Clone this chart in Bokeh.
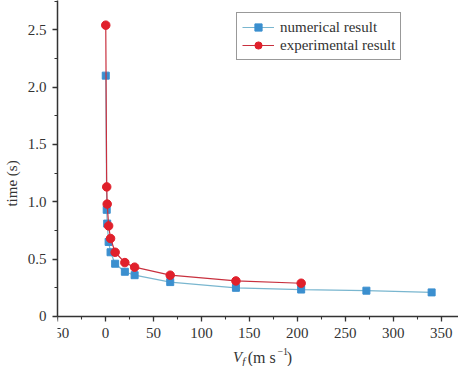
from bokeh.plotting import figure
from bokeh.models import (Range1d, SingleIntervalTicker, CustomJSTickFormatter,
                          Legend, LegendItem)
from bokeh.core.properties import value
from bokeh.embed import file_html
from bokeh.resources import INLINE

# data
vf_num = [0.3, 1.3, 1.8, 3.3, 5.3, 10.1, 20.2, 30.4, 67.5, 136, 204, 272, 340]
t_num = [2.10, 0.93, 0.81, 0.65, 0.56, 0.46, 0.39, 0.36, 0.30, 0.25, 0.235, 0.225, 0.21]
vf_exp = [0.3, 1.3, 1.8, 3.3, 5.3, 10.1, 20.2, 30.4, 67.5, 136, 204]
t_exp = [2.54, 1.13, 0.98, 0.79, 0.68, 0.56, 0.47, 0.43, 0.36, 0.31, 0.29]
x_label_parts = ["V", "f", "(m s", "\u22121", ")"]
y_label = "time (s)"
legend_labels = ["numerical result", "experimental result"]

FONT = "Liberation Serif"
AX = "#333333"
Y_TOP = 2.755
Y_BOTTOM = -0.436

p = figure(width=458, height=366, output_backend="svg", toolbar_location=None,
           x_range=Range1d(-50, 368), y_range=Range1d(Y_BOTTOM, Y_TOP),
           min_border_left=46, min_border_right=0, min_border_top=0,
           min_border_bottom=0)
p.outline_line_color = None
p.xgrid.visible = False
p.ygrid.visible = False

for ax in (p.xaxis[0], p.yaxis[0]):
    ax.axis_line_color = AX
    ax.axis_line_width = 1.5
    ax.major_tick_line_color = AX
    ax.minor_tick_line_color = AX
    ax.major_tick_line_width = 1.3
    ax.minor_tick_line_width = 1.1
    ax.major_tick_in = 0
    ax.major_tick_out = 5
    ax.minor_tick_in = 0
    ax.minor_tick_out = 3
    ax.major_label_text_font = FONT
    ax.major_label_text_font_size = "15px"
    ax.major_label_text_color = AX
    ax.axis_label_text_font = FONT
    ax.axis_label_text_font_size = "15px"
    ax.axis_label_text_color = AX
    ax.axis_label_text_font_style = "normal"

p.xaxis.fixed_location = 0
p.yaxis.bounds = (0, Y_TOP)
p.xaxis.major_label_standoff = 7
p.yaxis.major_label_standoff = 6
p.xaxis.ticker = SingleIntervalTicker(interval=50, num_minor_ticks=2)
p.yaxis.ticker = SingleIntervalTicker(interval=0.5, num_minor_ticks=2)
p.xaxis.formatter = CustomJSTickFormatter(
    code="return tick < 0 ? '\u2212' + Math.abs(tick).toFixed(0) : tick.toFixed(0);")
p.yaxis.formatter = CustomJSTickFormatter(
    code="return Math.abs(tick) < 1e-9 ? '0' : tick.toFixed(1);")
p.yaxis.axis_label = y_label
p.yaxis.axis_label_standoff = 5

BL = "#3b8fcf"
BL_LINE = "#79b6cf"
RD = "#e0202b"
RD_LINE = "#c8303e"

ln = p.line(vf_num, t_num, line_color=BL_LINE, line_width=1.2)
sq = p.scatter(vf_num, t_num, marker="square", size=7, fill_color=BL, line_color=BL)
lr = p.line(vf_exp, t_exp, line_color=RD_LINE, line_width=1.2)
cr = p.scatter(vf_exp, t_exp, marker="circle", size=8.5, fill_color=RD, line_color=RD)

legend = Legend(items=[LegendItem(label=legend_labels[0], renderers=[ln, sq]),
                       LegendItem(label=legend_labels[1], renderers=[lr, cr])],
                location=(179, 306), margin=0, padding=5,
                glyph_width=32, glyph_height=18, label_height=18,
                label_standoff=6, spacing=0,
                label_text_font=FONT, label_text_font_size="15px",
                label_text_color=AX,
                border_line_color=AX, border_line_width=1.3,
                background_fill_alpha=1.0)
p.add_layout(legend, "center")

# x axis title as real text pieces (italic V, subscript f, superscript -1),
# placed below the axis inside the frame
pieces = [
    (x_label_parts[0], 133.0, -0.357, "italic", "15px"),
    (x_label_parts[1], 142.7, -0.384, "italic", "11px"),
    (x_label_parts[2], 148.3, -0.357, "normal", "16px"),
    (x_label_parts[3], 179.2, -0.305, "normal", "10px"),
    (x_label_parts[4], 189.0, -0.357, "normal", "16px"),
]
for txt, x, y, style, size in pieces:
    p.text(x=[x], y=[y], text=[txt], text_font=value(FONT),
           text_font_style=style, text_font_size=size, text_color=AX,
           text_baseline="alphabetic", text_align="left")

open("out.html", "w").write(file_html(p, INLINE))
